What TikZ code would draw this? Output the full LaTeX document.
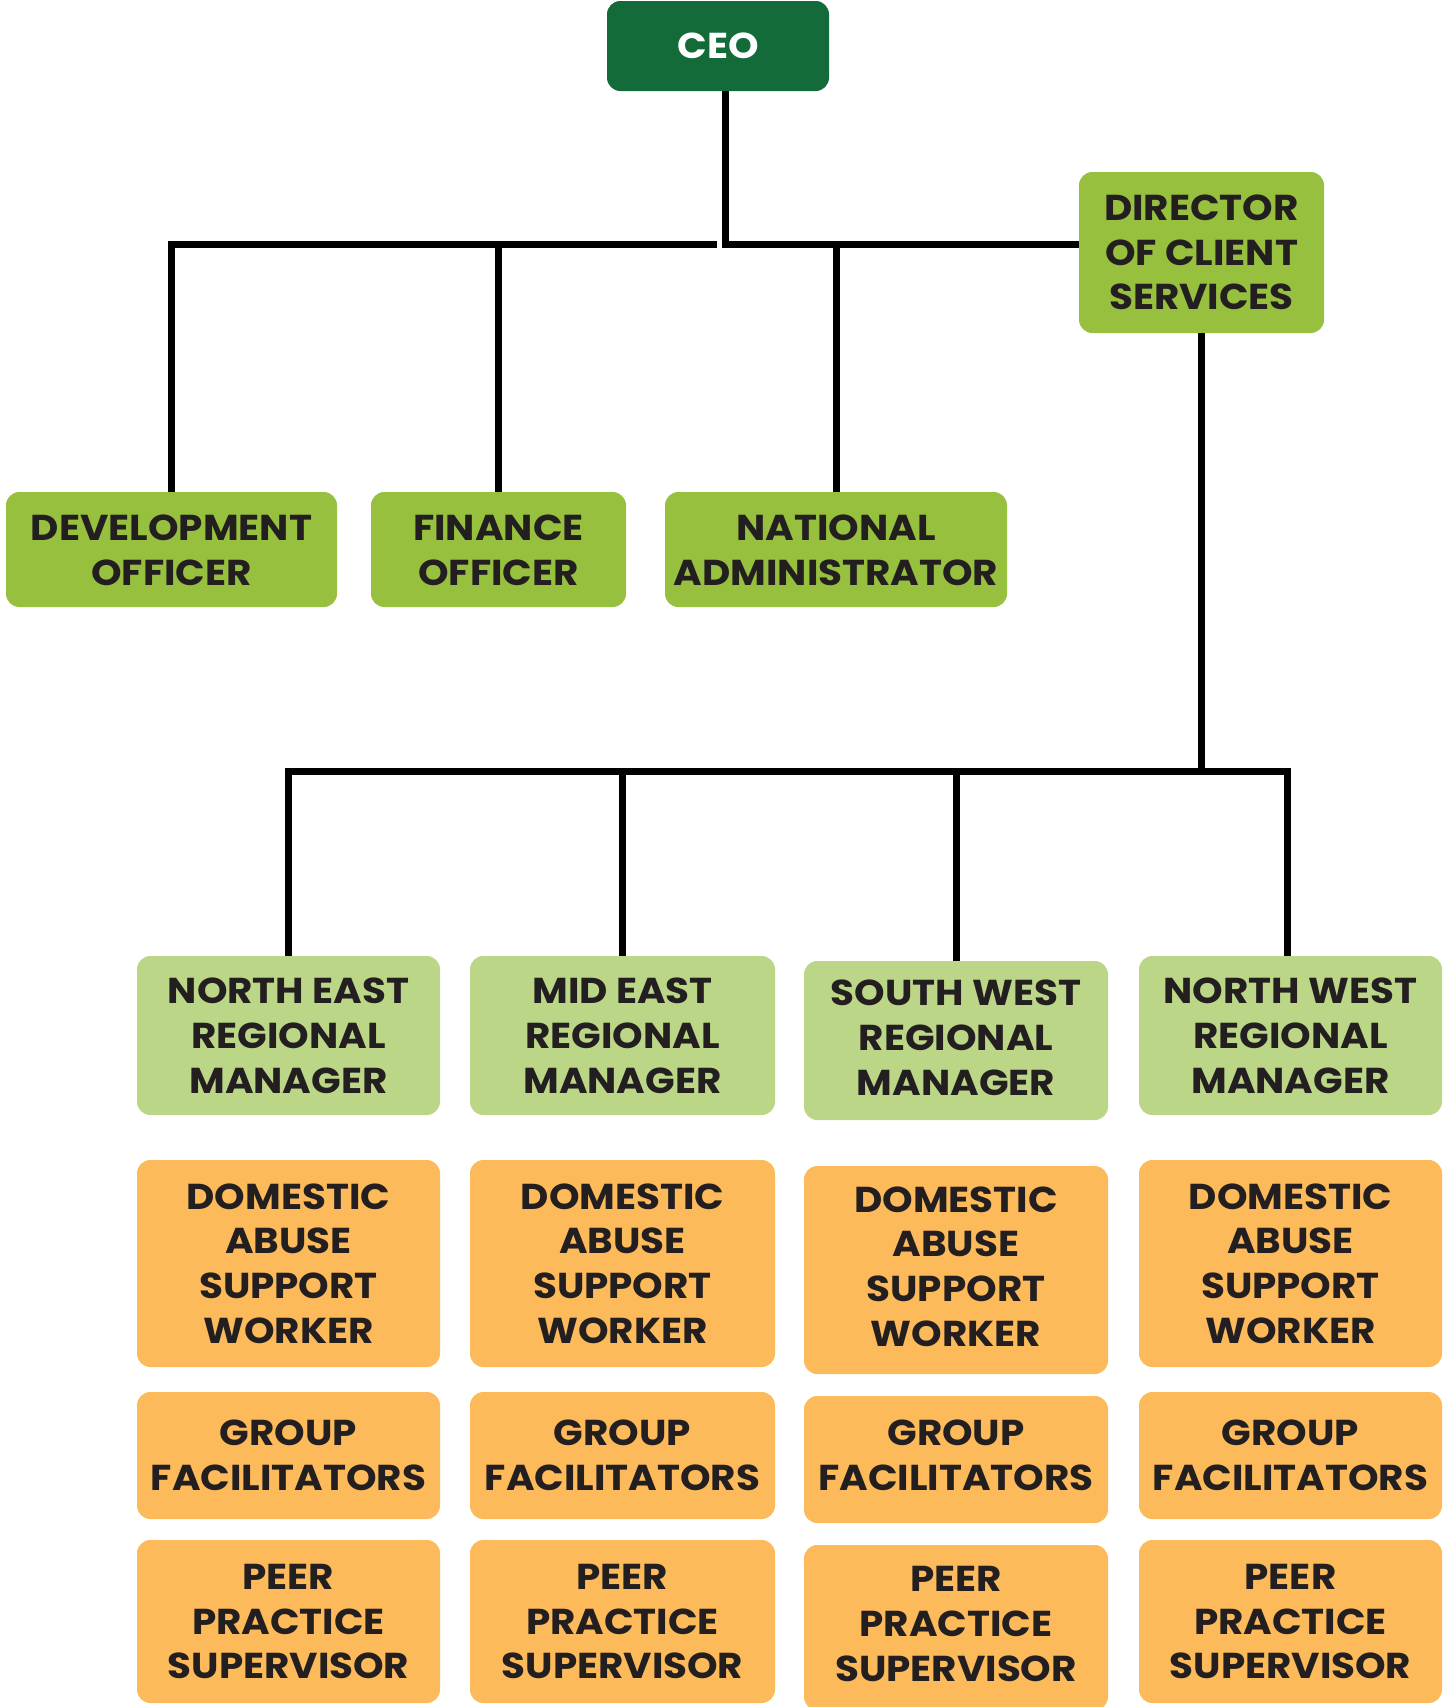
\documentclass[tikz,border=0pt]{standalone}
\usepackage{fontspec}
\setmainfont{Poppins}[FakeStretch=1.08]
\definecolor{ceogreen}{HTML}{136B3A}
\definecolor{midgreen}{HTML}{96C03E}
\definecolor{lightgreen}{HTML}{BCD688}
\definecolor{orangebox}{HTML}{FCBA5A}
\definecolor{textdark}{HTML}{231F20}
\tikzset{
  boxbase/.style={rectangle, rounded corners=10pt, inner sep=0pt},
  lbldark/.style={inner sep=0pt, align=center,
    font=\bfseries\fontsize{27}{33.6}\selectfont, text=textdark},
  lblwhite/.style={lbldark, text=white},
  ceobox/.style={boxbase, fill=ceogreen},
  topbox/.style={boxbase, fill=midgreen},
  rmbox/.style={boxbase, fill=lightgreen},
  orbox/.style={boxbase, fill=orangebox},
  conn/.style={line width=5.25pt, draw=black, line join=miter}
}
% \bx{name}{x1}{y1}{x2}{y2}{box style}{text style}{text}{text raise in px}
\newcommand{\bx}[9]{%
  \node[#6, minimum width={(#4-#2)*0.75pt}, minimum height={(#5-#3)*0.75pt}]
    (#1) at ({(#2+#4)/2},{(#3+#5)/2}) {};
  \node[#7] (#1-text) at ([yshift={#9*0.75pt}]#1.center) {#8};}
\begin{document}
\begin{tikzpicture}[x=0.75pt,y=-0.75pt]
\useasboundingbox (0,0) rectangle (1447,1707);
% top level
\bx{ceo}{607}{1}{829}{91}{ceobox}{lblwhite}{CEO}{0}
\bx{dir}{1079}{172}{1324}{333}{topbox}{lbldark}{DIRECTOR\\OF CLIENT\\SERVICES}{0}
\bx{dev}{6}{492}{337}{607}{topbox}{lbldark}{DEVELOPMENT\\OFFICER}{-1}
\bx{fin}{371}{492}{626}{607}{topbox}{lbldark}{FINANCE\\OFFICER}{-1}
\bx{nat}{665}{492}{1007}{607}{topbox}{lbldark}{NATIONAL\\ADMINISTRATOR}{-1}
% regional managers
\bx{ne}{137}{956}{440}{1115}{rmbox}{lbldark}{NORTH EAST\\REGIONAL\\MANAGER}{0}
\bx{me}{470}{956}{775}{1115}{rmbox}{lbldark}{MID EAST\\REGIONAL\\MANAGER}{0}
\bx{sw}{804}{961}{1108}{1120}{rmbox}{lbldark}{SOUTH WEST\\REGIONAL\\MANAGER}{2.5}
\bx{nw}{1139}{956}{1442}{1115}{rmbox}{lbldark}{NORTH WEST\\REGIONAL\\MANAGER}{0}
% support workers
\bx{neda}{137}{1160}{440}{1367}{orbox}{lbldark}{DOMESTIC\\ABUSE\\SUPPORT\\WORKER}{0}
\bx{meda}{470}{1160}{775}{1367}{orbox}{lbldark}{DOMESTIC\\ABUSE\\SUPPORT\\WORKER}{0}
\bx{swda}{804}{1166}{1108}{1374}{orbox}{lbldark}{DOMESTIC\\ABUSE\\SUPPORT\\WORKER}{3.5}
\bx{nwda}{1139}{1160}{1442}{1367}{orbox}{lbldark}{DOMESTIC\\ABUSE\\SUPPORT\\WORKER}{0}
% group facilitators
\bx{negf}{137}{1392}{440}{1519}{orbox}{lbldark}{GROUP\\FACILITATORS}{0}
\bx{megf}{470}{1392}{775}{1519}{orbox}{lbldark}{GROUP\\FACILITATORS}{0}
\bx{swgf}{804}{1396}{1108}{1523}{orbox}{lbldark}{GROUP\\FACILITATORS}{4}
\bx{nwgf}{1139}{1392}{1442}{1519}{orbox}{lbldark}{GROUP\\FACILITATORS}{0}
% peer practice supervisors
\bx{nepp}{137}{1540}{440}{1703}{orbox}{lbldark}{PEER\\PRACTICE\\SUPERVISOR}{0}
\bx{mepp}{470}{1540}{775}{1703}{orbox}{lbldark}{PEER\\PRACTICE\\SUPERVISOR}{0}
\bx{swpp}{804}{1545}{1108}{1710}{orbox}{lbldark}{PEER\\PRACTICE\\SUPERVISOR}{3.5}
\bx{nwpp}{1139}{1540}{1442}{1703}{orbox}{lbldark}{PEER\\PRACTICE\\SUPERVISOR}{0}
% connector coordinates
\coordinate (barA) at (0,244);
\coordinate (barAend) at (717,244);
\coordinate (barB) at (0,771);
% connectors
\draw[conn] ([xshift=5.25pt]ceo.south) |- (dir.west |- barA);
\draw[conn] (dev.north) |- (barAend);
\draw[conn] (fin.north) -- (fin.north |- barA);
\draw[conn] (nat.north) -- (nat.north |- barA);
\draw[conn] (dir.south) -- (dir.south |- barB);
\draw[conn] (ne.north) |- ([xshift=-1.9pt]nw.north |- barB) -- ([xshift=-1.9pt]nw.north);
\draw[conn] (me.north) -- (me.north |- barB);
\draw[conn] (sw.north) -- (sw.north |- barB);
\end{tikzpicture}
\end{document}
